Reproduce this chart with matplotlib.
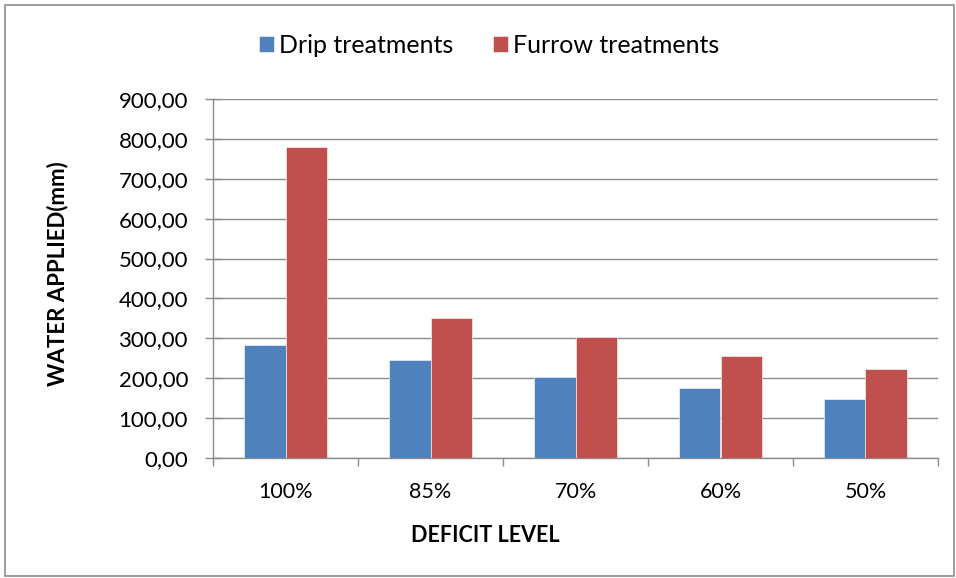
import matplotlib.pyplot as plt
from matplotlib.patches import Rectangle
from matplotlib.ticker import FixedLocator, FuncFormatter
import numpy as np

levels = ["100%", "85%", "70%", "60%", "50%"]
drip = [284, 246, 204, 175, 149]
furrow = [780, 351, 303, 255, 223]
y_ticks = [0, 100, 200, 300, 400, 500, 600, 700, 800, 900]

BLUE = "#4f81bd"
RED = "#c0504d"
GRID = "#8c8c8c"

plt.rcParams["font.family"] = ["Lato", "DejaVu Sans"]

fig = plt.figure(figsize=(9.56, 5.78), dpi=100)
W, H = 956, 578
ax = fig.add_axes([213 / W, 1 - 458 / H, (938 - 213) / W, (458 - 99) / H])

x = np.arange(len(levels))
bw = 0.283
ax.bar(x - bw / 2, drip, bw, color=BLUE, label="Drip treatments",
       edgecolor="white", linewidth=0.4, zorder=3)
ax.bar(x + bw / 2, furrow, bw, color=RED, label="Furrow treatments",
       edgecolor="white", linewidth=0.4, zorder=3)

ax.set_xlim(-0.5, len(levels) - 0.5)
ax.set_ylim(0, 900)
ax.set_yticks(y_ticks)
ax.yaxis.set_major_formatter(FuncFormatter(lambda v, p: f"{v:.2f}".replace(".", ",")))
ax.grid(axis="y", color=GRID, linewidth=1.0, zorder=0)
ax.set_axisbelow(True)

ax.set_xticks(x)
ax.set_xticklabels(levels)
ax.xaxis.set_minor_locator(FixedLocator(np.arange(-0.5, len(levels), 1.0)))
ax.tick_params(axis="x", which="major", length=0, pad=17, labelsize=15.5)
ax.tick_params(axis="x", which="minor", length=6, color=GRID, width=1.0)
ax.tick_params(axis="y", direction="inout", length=12, color=GRID, width=1.0,
               pad=12, labelsize=16)

for side in ("top", "right"):
    ax.spines[side].set_visible(False)
for side in ("left", "bottom"):
    ax.spines[side].set_color(GRID)
    ax.spines[side].set_linewidth(1.0)

ax.set_ylabel("WATER APPLIED(mm)", fontsize=16, fontweight="bold")
ax.yaxis.set_label_coords(-(213 - 58) / 725, (458 - 274) / 359)
ax.set_xlabel("DEFICIT LEVEL", fontsize=15.5, fontweight="bold")
ax.xaxis.set_label_coords((485 - 213) / 725, -(536 - 458) / 359)
ax.xaxis.label.set_va("center")
ax.yaxis.label.set_va("center")

ax.legend(loc="center", bbox_to_anchor=(0.381, 1.150), ncol=2, frameon=False,
          fontsize=18, handlelength=0.6, handleheight=0.6, handletextpad=0.2,
          columnspacing=1.6, borderpad=0)

fig.patches.append(Rectangle((5 / W, 2 / H), (W - 7) / W, (H - 7) / H,
                             transform=fig.transFigure, fill=False,
                             edgecolor="#8c8c8c", linewidth=1.2))

fig.savefig("out.png", dpi=100, facecolor="white")
